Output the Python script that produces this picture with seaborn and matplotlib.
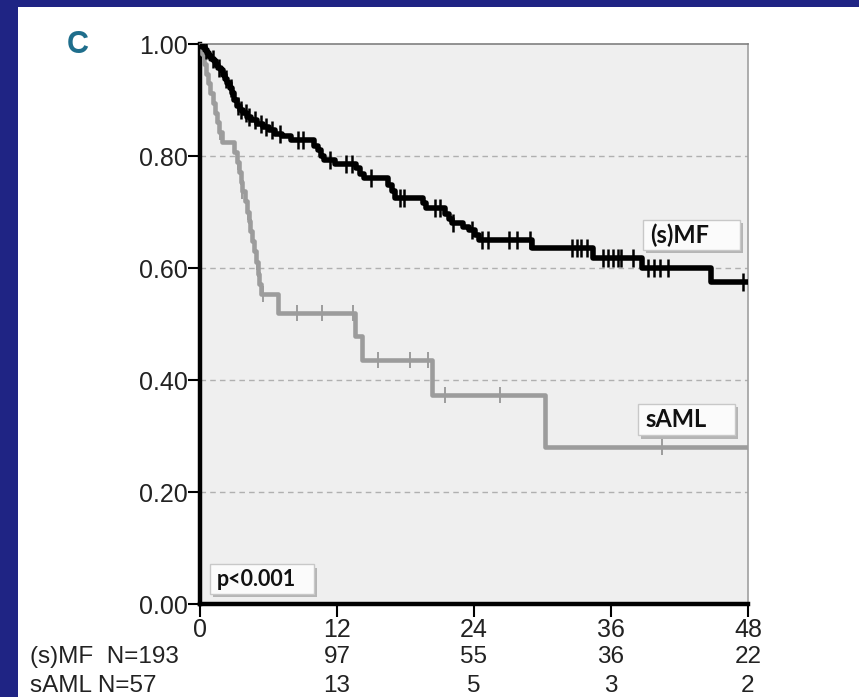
import numpy as np
import pandas as pd
import matplotlib
matplotlib.use("Agg")
import matplotlib.pyplot as plt
from matplotlib.patches import Rectangle
import seaborn as sns

# ---------------- data ----------------
# (s)MF Kaplan-Meier step times (months) and survival after each drop
mf_times = [0.2, 0.4, 0.6, 0.8, 1.0, 1.2, 1.4, 1.6, 1.8, 2.0, 2.2, 2.4, 2.6, 2.8,
            3.0, 3.2, 3.5, 3.8, 4.1, 4.5, 5.0, 5.5, 6.0, 6.6, 7.2, 8.0,
            10.0, 10.3, 10.6, 10.9, 11.8, 13.7, 14.0, 14.4, 16.5, 16.8, 17.1,
            19.5, 19.8, 21.5, 21.8, 22.1, 23.0, 23.6, 24.1, 24.4, 29.1, 34.4,
            38.7, 44.8]
mf_surv = [0.995, 0.990, 0.984, 0.979, 0.974, 0.969, 0.963, 0.958, 0.953, 0.945,
           0.938, 0.930, 0.922, 0.912, 0.900, 0.889, 0.882, 0.876, 0.870, 0.864,
           0.858, 0.852, 0.846, 0.840, 0.835, 0.829,
           0.818, 0.810, 0.800, 0.793, 0.786, 0.778, 0.768, 0.760, 0.748, 0.737,
           0.725, 0.716, 0.707, 0.697, 0.688, 0.680, 0.674, 0.668, 0.659, 0.650,
           0.636, 0.618, 0.600, 0.575]
mf_censored = [0.5, 1.1, 1.7, 2.3, 2.7, 3.3, 3.6, 4.0, 4.3, 4.8, 5.3, 5.8, 6.3,
               7.0, 8.6, 9.0, 11.4, 12.8, 13.3, 15.0, 17.5, 17.9, 20.6, 21.0,
               22.2, 23.8, 24.7, 25.2, 27.1, 27.8, 28.9, 32.6, 33.0, 33.4, 33.9,
               35.3, 35.7, 36.2, 36.6, 36.9, 37.9, 39.2, 39.8, 40.3, 41.0, 47.6]

# sAML
aml_times = [0.15, 0.35, 0.5, 0.7, 0.9, 1.1, 1.3, 1.5, 1.7, 1.9, 3.0, 3.2, 3.4,
             3.55, 3.7, 3.9, 4.1, 4.25, 4.4, 4.55, 4.7, 4.9, 5.05, 5.2, 5.35,
             6.8, 13.6, 14.2, 20.3, 30.2]
aml_surv = [0.982, 0.965, 0.947, 0.930, 0.912, 0.895, 0.877, 0.860, 0.842, 0.825,
            0.807, 0.790, 0.772, 0.754, 0.737, 0.719, 0.700, 0.684, 0.666, 0.649,
            0.631, 0.610, 0.590, 0.572, 0.553, 0.520, 0.478, 0.436, 0.373, 0.280]
aml_censored = [1.75, 3.3, 3.7, 4.2, 5.0, 5.5, 8.5, 10.7, 13.4, 15.6, 18.4,
                20.0, 21.5, 26.3, 40.5]

x_ticks = [0, 12, 24, 36, 48]
y_ticks = [0.0, 0.2, 0.4, 0.6, 0.8, 1.0]
y_ticklabels = ["0.00", "0.20", "0.40", "0.60", "0.80", "1.00"]
mf_at_risk = ["(s)MF  N=193", "97", "55", "36", "22"]
aml_at_risk = ["sAML N=57", "13", "5", "3", "2"]
group_labels = ["(s)MF", "sAML"]
p_text = "p<0.001"
panel_letter = "C"

# ---------------- helpers ----------------
def step_frame(times, surv, end=48.0):
    t = [0.0] + list(times) + [end]
    s = [1.0] + list(surv) + [surv[-1]]
    return pd.DataFrame({"t": t, "s": s})

def censor_frame(times, surv, cens):
    t = np.array([0.0] + list(times))
    s = np.array([1.0] + list(surv))
    idx = np.searchsorted(t, np.array(cens), side="right") - 1
    return pd.DataFrame({"t": cens, "s": s[idx]})

sns.set_theme(style="white")
narrow = ["Liberation Sans", "DejaVu Sans"]
plt.rcParams["font.family"] = narrow

W, H = 859, 697
fig = plt.figure(figsize=(W / 100, H / 100), dpi=100)
fig.patch.set_facecolor("#1f2484")
fig.patches.append(Rectangle((18 / W, 0), 1 - 18 / W, 1 - 7 / H,
                             transform=fig.transFigure, fc="white", ec="none",
                             zorder=-10))

left, right, top, bottom = 200, 748, 44, 604
ax = fig.add_axes([left / W, 1 - bottom / H, (right - left) / W, (bottom - top) / H])
ax.set_zorder(1)
ax.set_facecolor("#efefef")

for yv in y_ticks[1:-1]:
    ax.axhline(yv, color="#b0b0b0", lw=1.0, ls=(0, (4, 3)), zorder=1)

mf = step_frame(mf_times, mf_surv)
aml = step_frame(aml_times, aml_surv)
sns.lineplot(data=aml, x="t", y="s", ax=ax, color="#9c9c9c", lw=3.3,
             drawstyle="steps-post", estimator=None, sort=False, zorder=3)
sns.lineplot(data=mf, x="t", y="s", ax=ax, color="black", lw=4.0,
             drawstyle="steps-post", estimator=None, sort=False, zorder=4)

mfc = censor_frame(mf_times, mf_surv, mf_censored)
amlc = censor_frame(aml_times, aml_surv, aml_censored)
sns.scatterplot(data=amlc, x="t", y="s", ax=ax, marker="|", s=130, linewidth=1.4,
                color="#9c9c9c", zorder=3)
sns.scatterplot(data=mfc, x="t", y="s", ax=ax, marker="|", s=180, linewidth=1.8,
                color="black", zorder=4)

ax.set_xlim(0, 48)
ax.set_ylim(0, 1.0)
ax.set_xticks(x_ticks)
ax.set_xticklabels([str(v) for v in x_ticks])
ax.set_yticks(y_ticks)
ax.set_yticklabels(y_ticklabels)
ax.set_xlabel("")
ax.set_ylabel("")
ax.tick_params(axis="both", which="both", direction="out", length=9, width=1.5,
               color="black", labelsize=18, labelcolor="#222222",
               left=True, bottom=True)
ax.tick_params(axis="x", pad=1)
ax.tick_params(axis="y", pad=0)
for lab in ax.get_xticklabels() + ax.get_yticklabels():
    lab.set_family(narrow)

ax.spines["left"].set_linewidth(3.2)
ax.spines["left"].set_color("black")
ax.spines["bottom"].set_linewidth(3.2)
ax.spines["bottom"].set_color("black")
ax.spines["top"].set_linewidth(1.2)
ax.spines["top"].set_color("#808080")
ax.spines["right"].set_linewidth(1.2)
ax.spines["right"].set_color("#a0a0a0")

# labelled boxes
def label_box(x0, y0, x1, y1, text, size):
    ax.add_patch(Rectangle((x0 + 0.25, y0 - 0.006), x1 - x0, y1 - y0,
                           fc="#b5b5b5", ec="none", zorder=6))
    ax.add_patch(Rectangle((x0, y0), x1 - x0, y1 - y0,
                           fc="#fbfbfb", ec="#c8c8c8", lw=1.0, zorder=7))
    ax.text(x0 + 0.6, (y0 + y1) / 2, text, fontsize=size, fontweight="bold",
            family=["Lato", "DejaVu Sans"], color="#111111",
            ha="left", va="center", zorder=8)

label_box(38.8, 0.632, 47.3, 0.686, group_labels[0], 17)
label_box(38.4, 0.301, 46.9, 0.358, group_labels[1], 17)
label_box(0.9, 0.018, 10.0, 0.071, p_text, 15.5)

# panel letter
fig.text(78 / W, 1 - 45 / H, panel_letter, fontsize=22, fontweight="bold",
         color="#1f6e8c", ha="center", va="center", family=narrow)

# numbers at risk
fig.canvas.draw()
row_y = [657, 686]
for row, yy in zip([mf_at_risk, aml_at_risk], row_y):
    fig.text(30 / W, 1 - yy / H, row[0], fontsize=17.5, ha="left", va="center",
             color="#222222", family=narrow)
    for xv, txt in zip(x_ticks[1:], row[1:]):
        xp = ax.transData.transform((xv, 0))[0]
        fig.text(xp / W, 1 - yy / H, txt, fontsize=17.5, ha="center", va="center",
                 color="#222222", family=narrow)

fig.savefig("out.png", dpi=100, facecolor=fig.get_facecolor())
